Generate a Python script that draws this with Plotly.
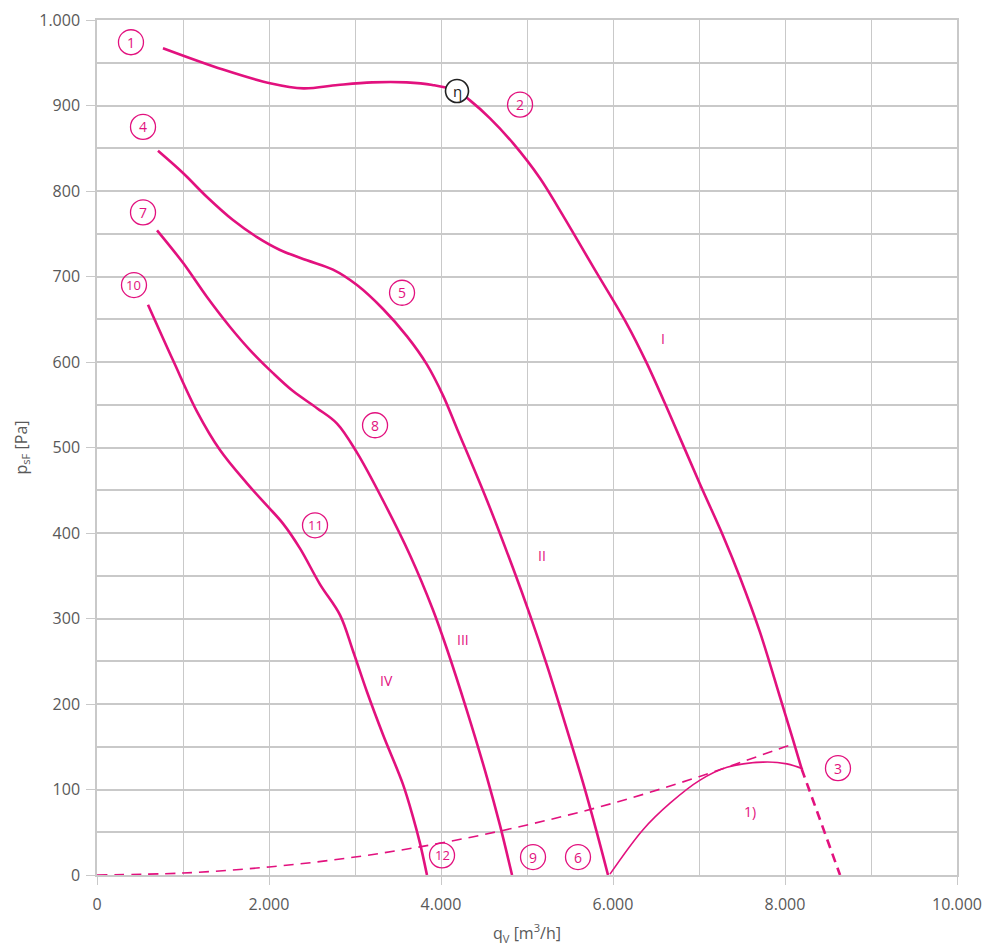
import plotly.graph_objects as go

# ---------------- data ----------------
# Curve I (labels 1 -> 2 -> 3)
q_I = [767, 1465, 2012, 2400, 2800, 3200, 3600, 3900, 4186, 4337, 4570, 4837,
       5151, 5384, 5771, 6159, 6391, 6663, 7012, 7283, 7477, 7709, 7942, 8097, 8194]
p_I = [967, 942, 926, 920, 924, 927, 927, 924, 917, 906, 885, 856,
       815, 777, 711, 645, 599, 538, 457, 396, 348, 284, 208, 157, 124]
# Dashed continuation of curve I
q_I_ext = [8194, 8640]
p_I_ext = [124, 0]

# Curve II (labels 4 -> 5 -> 6)
q_II = [709, 1000, 1279, 1581, 1860, 2128, 2442, 2744, 3023, 3326, 3605, 3837,
        4023, 4186, 4535, 4837, 5035, 5233, 5419, 5651, 5814, 5942]
p_II = [847, 821, 793, 766, 746, 731, 719, 708, 690, 662, 630, 597,
        561, 522, 438, 359, 304, 245, 185, 108, 49, 0]

# Curve III (labels 7 -> 8 -> 9)
q_III = [698, 1000, 1279, 1547, 1779, 2047, 2279, 2558, 2791, 3023, 3326, 3640,
         3907, 4070, 4302, 4535, 4686, 4826]
p_III = [754, 716, 676, 641, 614, 587, 566, 546, 528, 494, 438, 374,
         310, 264, 192, 114, 58, 0]

# Curve IV (labels 10 -> 11 -> 12)
q_IV = [593, 884, 1163, 1430, 1744, 1977, 2163, 2360, 2593, 2826, 2977, 3140,
        3326, 3558, 3674, 3756, 3837]
p_IV = [667, 602, 542, 497, 458, 432, 411, 382, 340, 304, 262, 214,
        164, 106, 68, 37, 0]

# Curve 1)
q_1 = [5965, 6349, 6663, 7012, 7326, 7744, 8023, 8209]
p_1 = [1, 53, 84, 111, 126, 132, 130, 124]

# Dashed system curve
q_sys = [0, 1000, 2000, 3000, 4000, 5000, 6000, 7000, 8000, 8060]
p_sys = [0, 2.3, 9.4, 21, 37.4, 58.5, 84, 115, 150, 152]

# Circled number labels
circ_text = ["1", "2", "3", "4", "5", "6", "7", "8", "9", "10", "11", "12"]
circ_q = [395, 4919, 8616, 535, 3547, 5593, 535, 3233, 5070, 430, 2535, 4012]
circ_p = [974, 901, 125, 875, 681, 21, 775, 526, 21, 690, 409, 23]

# Plain labels
lab_text = ["I", "II", "III", "IV", "1)"]
lab_q = [6581, 5174, 4256, 3372, 7593]
lab_p = [627, 374, 275, 228, 74]

# Efficiency marker
eta_q, eta_p = 4186, 917

# Tick labels
x_tickvals = [0, 2000, 4000, 6000, 8000, 10000]
x_ticktext = ["0", "2.000", "4.000", "6.000", "8.000", "10.000"]
y_tickvals = [0, 100, 200, 300, 400, 500, 600, 700, 800, 900, 1000]
y_ticktext = ["0", "100", "200", "300", "400", "500", "600", "700", "800", "900", "1.000"]

# ---------------- figure ----------------
MAG = "#e2117e"
GRID = "#c9c9c9"
TXT = "#595959"
FONT = "Open Sans"

fig = go.Figure()

def add_line(x, y, width, dash="solid", shape="spline"):
    fig.add_trace(go.Scatter(x=x, y=y, mode="lines",
                             line=dict(color=MAG, width=width, dash=dash,
                                       shape=shape, smoothing=1.0),
                             hoverinfo="skip", showlegend=False))

add_line(q_sys, p_sys, 1.6, dash="10px,7px")
add_line(q_I, p_I, 2.6)
add_line(q_I_ext, p_I_ext, 2.6, dash="9px,6px", shape="linear")
add_line(q_II, p_II, 2.6)
add_line(q_III, p_III, 2.6)
add_line(q_IV, p_IV, 2.6)
add_line(q_1, p_1, 1.6)

shapes = []
annotations = []
R = 12.5
for t, qx, py in zip(circ_text, circ_q, circ_p):
    shapes.append(dict(type="circle", xref="x", yref="y",
                       xsizemode="pixel", ysizemode="pixel",
                       xanchor=qx, yanchor=py, x0=-R, x1=R, y0=-R, y1=R,
                       line=dict(color=MAG, width=1.3), fillcolor="rgba(255,255,255,0)"))
    annotations.append(dict(x=qx, y=py, xref="x", yref="y", text=t, showarrow=False,
                            font=dict(family=FONT, size=14 if len(t) == 1 else 13, color=MAG),
                            xanchor="center", yanchor="middle"))

shapes.append(dict(type="circle", xref="x", yref="y",
                   xsizemode="pixel", ysizemode="pixel",
                   xanchor=eta_q, yanchor=eta_p, x0=-R + 1, x1=R - 1, y0=-R + 1, y1=R - 1,
                   line=dict(color="#222222", width=1.6), fillcolor="white", layer="above"))
annotations.append(dict(x=eta_q, y=eta_p, xref="x", yref="y", text="η", showarrow=False,
                        font=dict(family=FONT, size=15, color="#222222"),
                        xanchor="center", yanchor="middle"))

for t, qx, py in zip(lab_text, lab_q, lab_p):
    annotations.append(dict(x=qx, y=py, xref="x", yref="y", text=t, showarrow=False,
                            font=dict(family=FONT, size=14, color=MAG),
                            xanchor="center", yanchor="middle"))

fig.update_layout(
    width=988, height=948,
    margin=dict(l=97, r=31, t=20, b=73, autoexpand=False),
    paper_bgcolor="white", plot_bgcolor="white",
    font=dict(family=FONT, size=16, color=TXT),
    shapes=shapes, annotations=annotations,
    showlegend=False,
)

fig.update_xaxes(
    automargin=False,
    range=[0, 10000], tickvals=x_tickvals, ticktext=x_ticktext,
    showgrid=True, gridcolor=GRID, gridwidth=1.2,
    minor=dict(dtick=1000, tick0=0, showgrid=True, gridcolor=GRID, gridwidth=1.2, ticks=""),
    ticks="outside", ticklen=8, tickcolor=GRID, tickwidth=1.2,
    ticklabelstandoff=6,
    showline=True, linecolor=GRID, linewidth=1.5, mirror=True, zeroline=False,
    tickfont=dict(family=FONT, size=16, color=TXT),
    title=dict(text="q<sub>V</sub> [m<sup>3</sup>/h]", font=dict(family=FONT, size=16, color=TXT),
               standoff=14),
)
fig.update_yaxes(
    automargin=False,
    range=[0, 1000], tickvals=y_tickvals, ticktext=y_ticktext,
    showgrid=True, gridcolor=GRID, gridwidth=1.6,
    minor=dict(dtick=50, tick0=0, showgrid=True, gridcolor=GRID, gridwidth=1.6, ticks=""),
    ticks="outside", ticklen=9, tickcolor=GRID, tickwidth=1.2,
    ticklabelstandoff=3,
    showline=True, linecolor=GRID, linewidth=1.5, mirror=True, zeroline=False,
    tickfont=dict(family=FONT, size=16, color=TXT),
    title=dict(text="p<sub>sF</sub> [Pa]", font=dict(family=FONT, size=16, color=TXT),
               standoff=8),
)

fig.write_html("out.html")
